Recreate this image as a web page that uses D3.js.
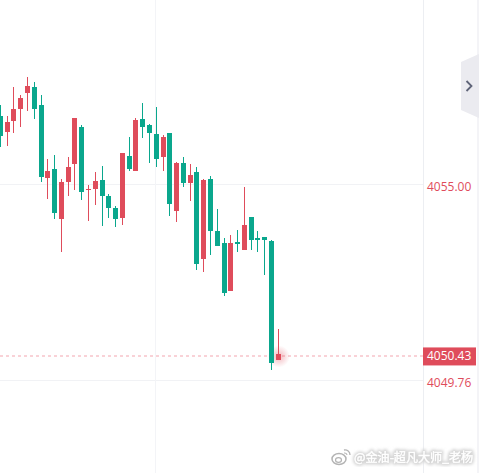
<!DOCTYPE html>
<html>
<head>
  <meta charset="UTF-8">
  <style>
    html, body { margin: 0; padding: 0; background: #fff; overflow: hidden; }
    svg { display: block; }
    .price { font-family: "Open Sans", sans-serif; font-size: 12px; }
  </style>
</head>
<body>
<svg></svg>
<script src="https://d3js.org/d3.v7.min.js"></script>
<script>
// candle values, oldest first
let open = [4056.83, 4056.40, 4056.69, 4057.01, 4057.44, 4057.60, 4057.12, 4055.17, 4055.41, 4054.07, 4055.06,
  4055.54, 4056.53, 4054.85, 4054.87, 4055.11, 4054.69, 4054.37, 4054.10, 4055.76, 4055.36, 4056.75, 4056.59,
  4056.34, 4055.73, 4056.37, 4054.29, 4055.57, 4055.03, 4055.33, 4053.00, 4055.14, 4053.75, 4053.43, 4052.15,
  4053.46, 4053.24, 4054.13, 4053.56, 4053.59, 4053.48, 4050.30];
let close = [4056.29, 4056.67, 4057.01, 4057.31, 4057.63, 4057.01, 4055.20, 4055.36, 4054.23, 4055.06, 4055.46,
  4056.77, 4054.79, 4054.87, 4055.09, 4054.69, 4054.37, 4054.07, 4055.84, 4055.41, 4056.72, 4056.53, 4056.37,
  4055.68, 4056.26, 4054.47, 4055.57, 4055.03, 4055.25, 4052.87, 4055.11, 4053.75, 4053.35, 4052.09, 4053.43,
  4053.40, 4053.91, 4053.51, 4053.51, 4053.51, 4050.22, 4050.48];
let high = [4057.12, 4056.83, 4057.60, 4057.39, 4057.87, 4057.74, 4057.39, 4055.68, 4055.78, 4055.14, 4055.73,
  4056.77, 4056.59, 4054.98, 4055.33, 4055.49, 4054.74, 4054.42, 4055.84, 4056.26, 4056.77, 4057.17, 4056.61,
  4057.07, 4056.32, 4056.37, 4055.60, 4055.73, 4055.54, 4055.46, 4055.14, 4055.22, 4054.34, 4053.56, 4053.64,
  4053.78, 4054.93, 4054.13, 4053.75, 4053.59, 4053.51, 4051.13];
let low = [4056.00, 4056.02, 4056.37, 4056.53, 4056.96, 4056.75, 4055.06, 4054.61, 4054.07, 4053.19, 4054.69,
  4054.85, 4054.58, 4054.02, 4054.45, 4053.89, 4054.10, 4053.86, 4053.91, 4055.36, 4055.36, 4056.24, 4055.57,
  4055.46, 4055.36, 4054.15, 4053.99, 4054.93, 4054.55, 4052.71, 4052.66, 4053.11, 4053.35, 4052.01, 4052.15,
  4053.19, 4053.24, 4053.24, 4053.19, 4052.58, 4050.03, 4050.30];

let gridPrices = [4055.00, 4049.76];
let lastPrice = 4050.43;
let watermark = "@金油-超凡大师_老杨";

let width = 479, height = 473;
let axisX = 423;
let upColor = "#df4c5b", downColor = "#0aa78d";

let svg = d3.select("svg").attr("width", width).attr("height", height);

let x = d3.scaleLinear().domain([0, open.length - 1]).range([0.35, 278.33]);
let y = d3.scaleLinear().domain([4049.76, 4055]).range([380.5, 184.5]);

let defs = svg.append("defs");
let glow = defs.append("radialGradient").attr("id", "glow");
glow.append("stop").attr("offset", "0%").attr("stop-color", upColor).attr("stop-opacity", 0.4);
glow.append("stop").attr("offset", "100%").attr("stop-color", upColor).attr("stop-opacity", 0);
defs.append("filter").attr("id", "halo").append("feGaussianBlur").attr("stdDeviation", 1.8);
defs.append("filter").attr("id", "soft").append("feGaussianBlur").attr("stdDeviation", 0.6);

// Grid
svg.selectAll(".grid-h")
  .data(gridPrices)
  .enter()
  .append("line")
  .attr("x1", 0).attr("x2", axisX)
  .attr("y1", d => Math.floor(y(d)) + 0.5).attr("y2", d => Math.floor(y(d)) + 0.5)
  .attr("stroke", "#f1f2f5");

svg.append("line")
  .attr("x1", 155.5).attr("x2", 155.5).attr("y1", 0).attr("y2", height)
  .attr("stroke", "#f3f4f7");
svg.append("line")
  .attr("x1", axisX + 0.5).attr("x2", axisX + 0.5).attr("y1", 0).attr("y2", height)
  .attr("stroke", "#eceef2");

// Last price line
svg.append("line")
  .attr("x1", 0).attr("x2", axisX)
  .attr("y1", Math.ceil(y(lastPrice))).attr("y2", Math.ceil(y(lastPrice)))
  .attr("stroke", "#f8c3ca")
  .attr("stroke-width", 1.4)
  .attr("stroke-dasharray", "3 3");

svg.append("circle")
  .attr("cx", x(open.length - 1) + 0.5).attr("cy", y(lastPrice) + 1)
  .attr("r", 11)
  .attr("fill", "url(#glow)");

// Candles
let candles = svg.append("g")
  .attr("shape-rendering", "crispEdges")
  .selectAll("g")
  .data(open.map((d, i) => i))
  .enter()
  .append("g")
  .attr("fill", i => close[i] >= open[i] ? upColor : downColor);

candles.append("rect")
  .attr("x", i => Math.floor(x(i)))
  .attr("width", 1)
  .attr("y", i => y(high[i]))
  .attr("height", i => y(low[i]) - y(high[i]));

candles.append("rect")
  .attr("x", i => Math.floor(x(i)) - 2)
  .attr("width", 5)
  .attr("y", i => y(Math.max(open[i], close[i])))
  .attr("height", i => Math.max(1, Math.abs(y(open[i]) - y(close[i]))));

// Price labels
svg.selectAll(".price-label")
  .data(gridPrices)
  .enter()
  .append("text")
  .attr("class", "price")
  .attr("x", 427).attr("y", d => y(d) + 6)
  .attr("fill", upColor)
  .text(d => d.toFixed(2));

svg.append("rect")
  .attr("x", axisX).attr("width", 53)
  .attr("y", y(lastPrice) - 8).attr("height", 18)
  .attr("fill", upColor);
svg.append("text")
  .attr("class", "price")
  .attr("x", 427).attr("y", y(lastPrice) + 5)
  .attr("fill", "#fff")
  .text(lastPrice.toFixed(2));

// Collapse tab on the right
svg.append("rect")
  .attr("x", 477).attr("y", 0).attr("width", 2).attr("height", height)
  .attr("fill", "#f4f4f7");
svg.append("path")
  .attr("d", "M479,54L461,62V110L479,118Z")
  .attr("fill", "#ebebf0");
svg.append("path")
  .attr("d", "M466.5,81L471.5,86L466.5,91")
  .attr("fill", "none")
  .attr("stroke", "#5f6478")
  .attr("stroke-width", 1.8);

// Watermark
let mark = svg.append("g").attr("font-family", "'Noto Sans CJK SC', sans-serif").attr("font-size", 12.1);
mark.append("text")
  .attr("x", 354).attr("y", 462)
  .attr("fill", "#d4d4d4").attr("stroke", "#d4d4d4").attr("stroke-width", 3.5)
  .attr("filter", "url(#halo)")
  .text(watermark);
mark.append("text")
  .attr("x", 354).attr("y", 462)
  .attr("fill", "#fff")
  .attr("stroke", "#fff")
  .attr("stroke-width", 0.4)
  .attr("filter", "url(#soft)")
  .text(watermark);

let logo = svg.append("g").attr("fill", "none").attr("stroke", "#b4b4b4").attr("filter", "url(#soft)");
logo.append("ellipse").attr("cx", 339).attr("cy", 459).attr("rx", 7).attr("ry", 5.5).attr("stroke-width", 1.5);
logo.append("ellipse").attr("cx", 338.5).attr("cy", 460).attr("rx", 3).attr("ry", 2.3).attr("stroke-width", 1.2);
logo.append("path").attr("d", "M344,450A5,5 0 0 1 350,455").attr("stroke-width", 1.3);
logo.append("path").attr("d", "M344,453A2.5,2.5 0 0 1 347,455").attr("stroke-width", 1.1);
</script>
</body>
</html>
